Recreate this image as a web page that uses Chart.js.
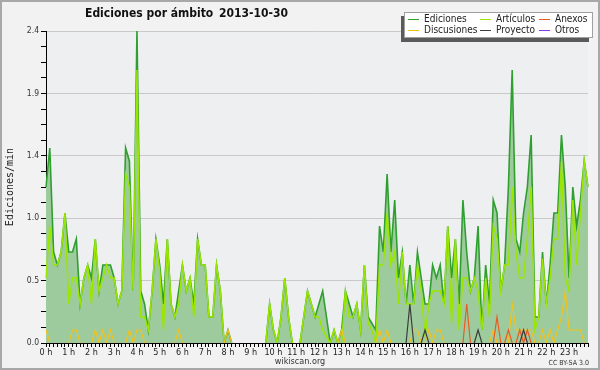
<!DOCTYPE html>
<html lang="es">
<head>
<meta charset="utf-8">
<title>Ediciones por ámbito</title>
<script src="https://cdn.jsdelivr.net/npm/chart.js@4.4.1/dist/chart.umd.min.js"></script>
<style>
  body { margin: 0; background: #fff; }
  canvas { display: block; }
</style>
</head>
<body>
<canvas id="myChart" width="600" height="370"></canvas>
<script>
//Datos

const fecha = '2013-10-30';
const ambitos = ['Ediciones', 'Artículos', 'Anexos', 'Discusiones', 'Proyecto', 'Otros'];
const colores = ['#2f9f2f', '#9be600', '#ec5a24', '#f2c21c', '#3c3c3c', '#8a3ae6'];
const horas = ['0 h', '1 h', '2 h', '3 h', '4 h', '5 h', '6 h', '7 h', '8 h', '9 h', '10 h', '11 h',
               '12 h', '13 h', '14 h', '15 h', '16 h', '17 h', '18 h', '19 h', '20 h', '21 h', '22 h', '23 h'];
const marcasY = [0, 0.12, 0.24, 0.36, 0.48, 0.6, 0.72, 0.84, 0.96, 1.08, 1.2,
                 1.32, 1.44, 1.56, 1.68, 1.8, 1.92, 2.04, 2.16, 2.28, 2.4];

// ediciones por minuto, tramos de 10 minutos
const ediciones = [
  1.2, 1.5, 0.7, 0.6, 0.7, 1.0, 0.7, 0.7, 0.8, 0.3, 0.5, 0.6,
  0.5, 0.8, 0.4, 0.6, 0.6, 0.6, 0.5, 0.3, 0.4, 1.5, 1.4, 0.4,
  2.4, 0.4, 0.3, 0.1, 0.4, 0.8, 0.6, 0.3, 0.8, 0.3, 0.2, 0.4,
  0.6, 0.4, 0.5, 0.3, 0.8, 0.6, 0.6, 0.2, 0.2, 0.6, 0.4, 0,
  0.1, 0, 0, 0, 0, 0, 0, 0, 0, 0, 0, 0.3,
  0.1, 0, 0.2, 0.5, 0.2, 0, 0, 0, 0.2, 0.4, 0.3, 0.2,
  0.3, 0.4, 0.2, 0, 0.1, 0, 0.1, 0.4, 0.3, 0.2, 0.3, 0.1,
  0.6, 0.2, 0.15, 0.1, 0.9, 0.7, 1.3, 0.7, 1.1, 0.5, 0.7, 0.3,
  0.6, 0.3, 0.7, 0.5, 0.3, 0.3, 0.6, 0.5, 0.6, 0.3, 0.9, 0.5,
  0.8, 0.3, 1.1, 0.7, 0.4, 0.5, 0.9, 0.1, 0.6, 0.3, 1.1, 1.0,
  0.4, 0.6, 1.2, 2.1, 0.8, 0.7, 1.0, 1.2, 1.6, 0.2, 0.2, 0.7,
  0.3, 0.6, 1.0, 1.0, 1.6, 1.2, 0.5, 1.2, 0.9, 1.1, 1.4, 1.2
];
const articulos = [
  0.5, 0.9, 0.6, 0.6, 0.7, 1.0, 0.3, 0.5, 0.5, 0.3, 0.5, 0.6,
  0.3, 0.8, 0.4, 0.5, 0.6, 0.5, 0.5, 0.3, 0.4, 1.3, 1.2, 0.4,
  2.1, 0.2, 0.2, 0.1, 0.4, 0.8, 0.55, 0.1, 0.8, 0.3, 0.2, 0.3,
  0.6, 0.4, 0.5, 0.2, 0.8, 0.6, 0.6, 0.2, 0.2, 0.6, 0.4, 0,
  0, 0, 0, 0, 0, 0, 0, 0, 0, 0, 0, 0.3,
  0.1, 0, 0.2, 0.5, 0.2, 0, 0, 0, 0.2, 0.4, 0.3, 0.2,
  0.2, 0.1, 0.05, 0, 0.1, 0, 0, 0.4, 0.2, 0.2, 0.3, 0.1,
  0.6, 0.15, 0.1, 0, 0.6, 0.6, 1.0, 0.6, 0.7, 0.3, 0.7, 0.3,
  0.3, 0.3, 0.6, 0.4, 0.05, 0.3, 0.4, 0.4, 0.4, 0.3, 0.9, 0.15,
  0.8, 0.1, 0.5, 0.5, 0.4, 0.5, 0.4, 0.1, 0.5, 0.2, 0.9, 0.8,
  0.4, 0.6, 0.6, 1.2, 0.7, 0.5, 0.5, 0.8, 1.2, 0.1, 0.2, 0.65,
  0.3, 0.5, 0.8, 0.8, 1.4, 0.5, 0.4, 1.1, 0.6, 1.0, 1.4, 1.2
];
const anexos = [
  0, 0, 0, 0, 0, 0, 0, 0, 0, 0, 0, 0,
  0, 0, 0, 0, 0, 0, 0, 0, 0, 0, 0, 0,
  0, 0, 0, 0, 0, 0, 0, 0, 0, 0, 0, 0,
  0, 0, 0, 0, 0, 0, 0, 0, 0, 0, 0, 0,
  0, 0, 0, 0, 0, 0, 0, 0, 0, 0, 0, 0,
  0, 0, 0, 0, 0, 0, 0, 0, 0, 0, 0, 0,
  0, 0, 0, 0, 0, 0, 0, 0, 0, 0, 0, 0,
  0, 0, 0, 0, 0, 0, 0, 0, 0, 0, 0, 0,
  0, 0, 0, 0, 0, 0, 0, 0, 0, 0, 0, 0,
  0, 0, 0, 0.3, 0, 0, 0, 0, 0, 0, 0, 0.2,
  0, 0, 0.1, 0, 0, 0.1, 0, 0.1, 0, 0, 0, 0,
  0, 0, 0, 0, 0, 0, 0, 0, 0, 0, 0, 0
];
const discusiones = [
  0.1, 0, 0, 0, 0, 0, 0, 0.1, 0.1, 0, 0, 0,
  0, 0.1, 0, 0.1, 0, 0.1, 0, 0, 0, 0, 0.1, 0,
  0.1, 0.1, 0, 0, 0, 0, 0, 0, 0, 0, 0, 0.1,
  0, 0, 0, 0, 0, 0, 0, 0, 0, 0, 0, 0,
  0.1, 0, 0, 0, 0, 0, 0, 0, 0, 0, 0, 0,
  0, 0, 0, 0, 0, 0, 0, 0, 0, 0, 0, 0,
  0, 0, 0, 0, 0, 0, 0.1, 0, 0, 0, 0, 0,
  0, 0, 0, 0, 0.1, 0, 0.1, 0, 0, 0, 0, 0,
  0, 0.1, 0.1, 0, 0, 0.1, 0, 0.1, 0.1, 0, 0, 0,
  0, 0, 0, 0, 0, 0, 0, 0, 0, 0, 0.1, 0,
  0, 0, 0, 0.3, 0.1, 0.1, 0.1, 0.1, 0.1, 0, 0, 0.1,
  0, 0.1, 0, 0.1, 0.2, 0.4, 0.1, 0.1, 0.1, 0.1, 0, 0
];
const proyecto = [
  0, 0, 0, 0, 0, 0, 0, 0, 0, 0, 0, 0,
  0, 0, 0, 0, 0, 0, 0, 0, 0, 0, 0, 0,
  0, 0, 0, 0, 0, 0, 0, 0, 0, 0, 0, 0,
  0, 0, 0, 0, 0, 0, 0, 0, 0, 0, 0, 0,
  0, 0, 0, 0, 0, 0, 0, 0, 0, 0, 0, 0,
  0, 0, 0, 0, 0, 0, 0, 0, 0, 0, 0, 0,
  0, 0, 0, 0, 0, 0, 0, 0, 0, 0, 0, 0,
  0, 0, 0, 0, 0, 0, 0, 0, 0, 0, 0, 0,
  0.3, 0, 0, 0, 0.1, 0, 0, 0, 0, 0, 0, 0,
  0, 0, 0, 0, 0, 0, 0.1, 0, 0, 0, 0, 0,
  0, 0, 0, 0, 0, 0, 0.1, 0, 0, 0, 0, 0,
  0, 0, 0, 0, 0, 0, 0, 0, 0, 0, 0, 0
];
const otros = [
  0, 0, 0, 0, 0, 0, 0, 0, 0, 0, 0, 0,
  0, 0, 0, 0, 0, 0, 0, 0, 0, 0, 0, 0,
  0, 0, 0, 0, 0, 0, 0, 0, 0, 0, 0, 0,
  0, 0, 0, 0, 0, 0, 0, 0, 0, 0, 0, 0,
  0, 0, 0, 0, 0, 0, 0, 0, 0, 0, 0, 0,
  0, 0, 0, 0, 0, 0, 0, 0, 0, 0, 0, 0,
  0, 0, 0, 0, 0, 0, 0, 0, 0, 0, 0, 0,
  0, 0, 0, 0, 0, 0, 0, 0, 0, 0, 0, 0,
  0, 0, 0, 0, 0, 0, 0, 0, 0, 0, 0, 0,
  0, 0, 0, 0, 0, 0, 0, 0, 0, 0, 0, 0,
  0, 0, 0, 0, 0, 0, 0, 0, 0, 0, 0, 0,
  0, 0, 0, 0, 0, 0, 0, 0, 0, 0, 0, 0
];

// tramos de 10 minutos del dia
const franjas = [];
for (let h = 0; h < 24; h++) {
    for (let m = 0; m < 60; m += 10) {
        franjas.push(h + ':' + (m < 10 ? '0' : '') + m);
    }
}

const familia = '"DejaVu Sans Condensed", "DejaVu Sans", sans-serif';

//Plugins

const marco = {
    id: 'marco',
    beforeDraw(chart) {
        const {ctx, chartArea: a, width, height} = chart;
        ctx.save();
        ctx.fillStyle = '#f2f2f2';
        ctx.fillRect(0, 0, width, height);
        ctx.strokeStyle = '#a8a8a8';
        ctx.lineWidth = 2;
        ctx.strokeRect(1, 1, width - 2, height - 2);
        ctx.fillStyle = '#eeeff1';
        ctx.fillRect(a.left, a.top, a.right - a.left, a.bottom - a.top);
        ctx.restore();
    },
    afterDraw(chart) {
        const ctx = chart.ctx;
        ctx.save();
        ctx.textBaseline = 'middle';

        // titulo
        ctx.fillStyle = '#111';
        ctx.font = 'bold 12px ' + familia;
        ctx.fillText('Ediciones por ámbito', 85, 14);
        ctx.fillText(fecha, 219, 14);

        // leyenda
        ctx.fillStyle = '#5a5a5a';
        ctx.fillRect(401, 16, 188, 26);
        ctx.fillStyle = '#fff';
        ctx.fillRect(404, 12, 189, 26);
        ctx.strokeStyle = '#a0a0a0';
        ctx.lineWidth = 1;
        ctx.strokeRect(404.5, 12.5, 188, 25);

        const colX = [408, 480, 539];
        const filaY = [19, 30];
        ctx.font = '10px ' + familia;
        chart.data.datasets.forEach((ds, i) => {
            const x = colX[i % 3];
            const y = filaY[Math.floor(i / 3)];
            ctx.strokeStyle = ds.borderColor;
            ctx.beginPath();
            ctx.moveTo(x, y + 0.5);
            ctx.lineTo(x + 11, y + 0.5);
            ctx.stroke();
            ctx.fillStyle = '#222';
            ctx.fillText(ds.label, x + 16, y);
        });

        // pie
        ctx.fillStyle = '#333';
        ctx.font = '9px ' + familia;
        ctx.textAlign = 'center';
        ctx.fillText('wikiscan.org', 300, 362);
        ctx.font = '7px ' + familia;
        ctx.textAlign = 'right';
        ctx.fillText('CC BY-SA 3.0', 589, 363);
        ctx.restore();
    }
};

//Grafico

const series = [ediciones, articulos, anexos, discusiones, proyecto, otros];
const orden = [6, 4, 2, 3, 1, 5];
const grosor = [1.6, 1.5, 1.2, 1.2, 1.2, 1];

// los tramos en cero quedan bajo el eje
const ocultarCeros = (c) => (c.p0.parsed.y === 0 && c.p1.parsed.y === 0) ? 'rgba(0,0,0,0)' : undefined;

const datasets = ambitos.map((nombre, i) => ({
    label: nombre,
    data: series[i],
    borderColor: colores[i],
    backgroundColor: i === 0 ? '#9ecb9e' : colores[i],
    borderWidth: grosor[i],
    fill: i === 0 ? 'origin' : false,
    pointRadius: 0,
    tension: 0,
    order: orden[i],
    segment: { borderColor: ocultarCeros }
}));

const config = {
    type: 'line',
    data: { labels: franjas, datasets: datasets },
    options: {
        responsive: false,
        animation: false,
        layout: { padding: { top: 31, right: 12, bottom: 0, left: 0 } },
        plugins: { legend: { display: false }, tooltip: { enabled: false } },
        scales: {
            x: {
                type: 'category',
                offset: false,
                z: 1,
                afterFit: (s) => { s.height = 27; },
                border: { color: '#000', width: 1 },
                grid: { drawOnChartArea: false, tickColor: '#000', tickLength: 4 },
                ticks: {
                    autoSkip: false,
                    minRotation: 0,
                    maxRotation: 0,
                    padding: 0,
                    color: '#222',
                    font: { family: familia, size: 9 },
                    callback: (v, i) => i % 6 === 0 ? horas[i / 6] : ''
                }
            },
            y: {
                min: 0,
                max: 2.4,
                afterFit: (s) => { s.width = 46; },
                afterBuildTicks: (s) => { s.ticks = marcasY.map(v => ({ value: v })); },
                border: { color: '#000', width: 1 },
                grid: {
                    color: (c) => (c.index % 4 === 0 && c.index > 0) ? '#c9c9c9' : 'rgba(0,0,0,0)',
                    tickColor: '#000',
                    tickLength: 5
                },
                ticks: {
                    padding: 2,
                    color: '#333',
                    font: { family: familia, size: 8.5 },
                    callback: (v, i) => i % 4 === 0 ? v.toFixed(1) : ''
                },
                title: {
                    display: true,
                    text: 'Ediciones/min',
                    color: '#222',
                    font: { family: '"DejaVu Sans Mono", monospace', size: 10 }
                }
            }
        }
    },
    plugins: [marco]
};

window.myChart = new Chart(document.getElementById('myChart'), config);
</script>
</body>
</html>
